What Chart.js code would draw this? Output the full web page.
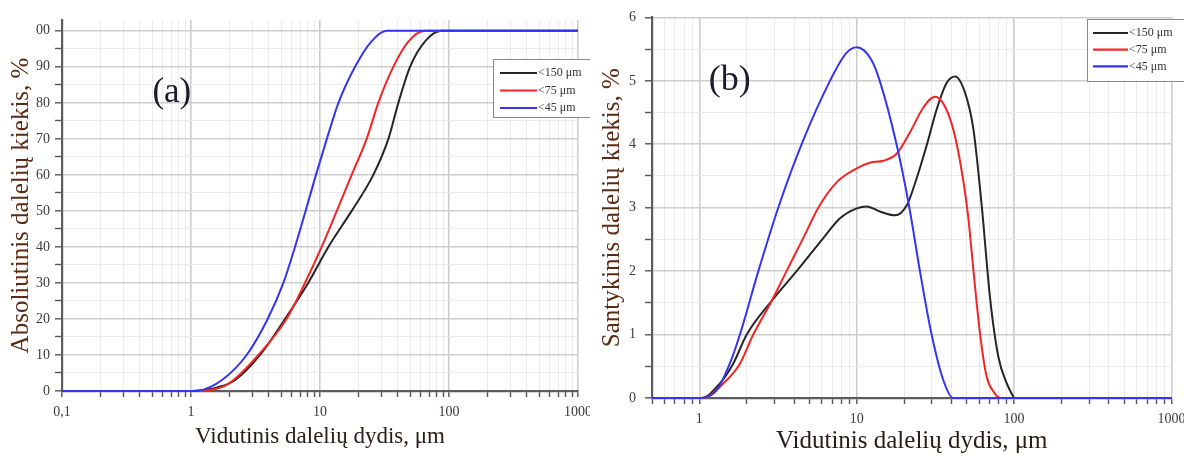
<!DOCTYPE html>
<html>
<head>
<meta charset="utf-8">
<script src="https://cdn.jsdelivr.net/npm/chart.js@4"></script>
<style>
html,body{margin:0;padding:0;background:#fff;width:1184px;height:458px;overflow:hidden;position:relative}
.wrap{position:absolute;top:0;height:458px;overflow:hidden}
#w1{left:0;width:590px}
#w2{left:590px;width:594px}
canvas{display:block}
</style>
</head>
<body>
<div class="wrap" id="w1"><canvas id="c1" width="610" height="458"></canvas></div>
<div class="wrap" id="w2"><canvas id="c2" width="614" height="458"></canvas></div>
<script>
// ---------- data ----------
const seriesNames = ['<150 μm', '<75 μm', '<45 μm'];
const seriesColors = ['#262626', '#f42424', '#3434f2'];

// (a) cumulative amount, %
const cumSize150 = [0.1, 1.0, 1.2, 1.6, 2.19, 3.43, 5.35, 8.1, 11.6, 17.6, 25.9, 33.9, 40.5, 49.9, 65, 87.7, 1000];
const cumVal150  = [0,   0,   0.2, 1,   3,    10,   20,   30,  40,   50,   60,   70,   80,   90,   97, 100,  100];
const cumSize75  = [0.1, 1.0, 1.28, 1.95, 3.33, 5.5, 7.65, 10.3, 13.5, 17.6, 23, 28.3, 37, 48.4, 65, 1000];
const cumVal75   = [0,   0,   0.1,  2,    10,   20,  30,   40,   50,   60,   70, 80,   90, 97,   100, 100];
const cumSize45  = [0.1, 1.0, 1.14, 1.73, 2.70, 3.93, 5.2, 6.4, 7.74, 9.3, 11.3, 13.9, 18.7, 25, 32.9, 1000];
const cumVal45   = [0,   0,   0.1,  3,    10,   20,   30,  40,  50,   60,  70,   80,   90,   97, 100,  100];

// (b) relative amount, %
const difSize150 = [0.5, 1.03, 1.35, 1.64, 2.0, 2.88, 4.15, 6.13, 7.8, 10, 11.6, 14.0, 17.5, 20.8, 24, 27.8, 32.2, 37.3, 42.2, 48.8, 55.1, 62.2, 70.3, 79.4, 89.8, 98.9, 100, 1000];
const difVal150  = [0,   0,    0.23, 0.54, 1.0, 1.53, 2.0,  2.52, 2.83, 2.99, 3.02, 2.94, 2.88, 3.04, 3.46, 3.98, 4.55, 4.97, 5.07, 4.81, 4.24, 3.04, 1.58, 0.65, 0.23, 0.02, 0, 0];
const difSize75  = [0.5, 1.06, 1.42, 1.81, 2.2, 2.88, 3.58, 4.57, 5.7, 7.45, 10, 12.1, 14.8, 17.9, 21.8, 26.5, 31.4, 34.6, 39.2, 43.2, 47.6, 51.2, 55.2, 60.8, 67, 74, 81.5, 1000];
const difVal75   = [0,   0,    0.23, 0.54, 1.0, 1.53, 2.0,  2.52, 3.0, 3.4,  3.62, 3.71, 3.74, 3.85, 4.19, 4.58, 4.75, 4.68, 4.40, 4.0, 3.41, 2.83, 2.0, 1.0, 0.33, 0.1, 0, 0];
const difSize45  = [0.5, 1.0, 1.29, 1.56, 1.81, 2.37, 3.17, 4.46, 6.76, 8.6, 10, 12.4, 14.0, 17.9, 21.6, 25.2, 29.9, 35.5, 41, 1000];
const difVal45   = [0,   0,   0.125, 0.54, 1.0, 2.0,  3.0,  4.0,  5.0,  5.44, 5.53, 5.33, 5.0, 4.0, 3.0, 2.0, 1.0, 0.28, 0, 0];

// tick labels
const leftXTickValues  = [0.1, 1, 10, 100, 1000];
const leftXTickLabels  = ['0,1', '1', '10', '100', '1000'];
const leftYTickValues  = [0, 10, 20, 30, 40, 50, 60, 70, 80, 90, 100];
const leftYTickLabels  = ['0', '10', '20', '30', '40', '50', '60', '70', '80', '90', '00'];
const rightXTickValues = [1, 10, 100, 1000];
const rightXTickLabels = ['1', '10', '100', '1000'];
const rightYTickValues = [0, 1, 2, 3, 4, 5, 6];
const rightYTickLabels = ['0', '1', '2', '3', '4', '5', '6'];

const xTitle = 'Vidutinis dalelių dydis, μm';
const leftYTitle = 'Absoliutinis dalelių kiekis, %';
const rightYTitle = 'Santykinis dalelių kiekis, %';

// ---------- helpers ----------
const SERIF = "'Liberation Serif', 'DejaVu Serif', serif";
function pts(xs, ys) { return xs.map((x, i) => ({x: x, y: ys[i]})); }
function near(a, b) { return Math.abs(a - b) <= 1e-6 * Math.max(1, Math.abs(b)); }
function lookup(vals, labs, v) { for (let i = 0; i < vals.length; i++) if (near(v, vals[i])) return labs[i]; return ''; }
function isDecade(v) { const l = Math.log10(v); return Math.abs(l - Math.round(l)) < 1e-6; }
function logTicks(min, max) {
  const t = [];
  for (let e = Math.floor(Math.log10(min)); e <= Math.ceil(Math.log10(max)); e++) {
    for (let m = 1; m < 10; m++) {
      const v = +(m * Math.pow(10, e)).toPrecision(6);
      if (v >= min * (1 - 1e-9) && v <= max * (1 + 1e-9)) t.push({value: v});
    }
  }
  return t;
}
function linTicks(min, max, step) {
  const t = []; for (let v = min; v <= max + 1e-9; v += step) t.push({value: +v.toFixed(6)}); return t;
}

const decor = {
  id: 'decor',
  afterDatasetsDraw(chart, args, o) {
    const ctx = chart.ctx;
    ctx.save();
    const xs = chart.scales.x, ys = chart.scales.y;
    ctx.font = o.labelFont;
    ctx.fillStyle = '#1d1a2c';
    ctx.textAlign = 'center';
    ctx.textBaseline = 'middle';
    ctx.fillText(o.label, xs.getPixelForValue(o.labelAt[0]), ys.getPixelForValue(o.labelAt[1]));
    const L = o.legend;
    ctx.fillStyle = '#fff';
    ctx.fillRect(L.x, L.y, L.w, L.h);
    ctx.strokeStyle = '#8a8a8a';
    ctx.lineWidth = 1;
    ctx.strokeRect(L.x + 0.5, L.y + 0.5, L.w, L.h);
    chart.data.datasets.forEach((ds, i) => {
      const y = L.y + L.first + i * L.step;
      ctx.strokeStyle = ds.borderColor;
      ctx.lineWidth = 2.2;
      ctx.beginPath();
      ctx.moveTo(L.x + L.lineStart, y);
      ctx.lineTo(L.x + L.lineEnd, y);
      ctx.stroke();
      ctx.fillStyle = '#333';
      ctx.font = L.font;
      ctx.textAlign = 'left';
      ctx.textBaseline = 'middle';
      ctx.fillText(ds.label, L.x + L.lineEnd + 1, y);
    });
    ctx.restore();
  }
};

function makeChart(id, c) {
  const datasets = c.series.map((s, i) => ({
    label: seriesNames[i],
    data: pts(s[0], s[1]),
    borderColor: seriesColors[i],
    borderWidth: 2,
    pointRadius: 0,
    fill: false,
    cubicInterpolationMode: 'monotone',
    clip: false,
    order: 3 - i
  }));
  return new Chart(document.getElementById(id), {
    type: 'line',
    data: {datasets: datasets},
    plugins: [decor],
    options: {
      responsive: false,
      animation: false,
      events: [],
      layout: {padding: {left: 0, right: c.padRight, top: c.padTop, bottom: 0}},
      plugins: {
        legend: {display: false},
        tooltip: {enabled: false},
        decor: {label: c.label, labelAt: c.labelAt, labelFont: c.labelFont, legend: c.legend}
      },
      scales: {
        x: {
          type: 'logarithmic',
          min: c.xMin, max: c.xMax,
          afterBuildTicks: s => { s.ticks = logTicks(c.xMin, c.xMax); },
          afterFit: s => { s.height = c.xH; },
          ticks: {
            autoSkip: false, maxRotation: 0, minRotation: 0, padding: 7,
            font: {family: SERIF, size: 14}, color: '#3a3a3a',
            callback: v => lookup(c.xTickValues, c.xTickLabels, v)
          },
          grid: {
            color: g => (g.tick && isDecade(g.tick.value)) ? '#cdcdcd' : '#ebebeb',
            lineWidth: g => (g.tick && isDecade(g.tick.value)) ? 1.6 : 1,
            drawTicks: true, tickLength: 6, tickColor: '#555', tickWidth: 1.4
          },
          border: {display: true, color: '#5c5c5c', width: 2.2},
          title: {display: true, text: xTitle, color: '#2a1c14',
                  font: {family: SERIF, size: c.xTitleSize}, padding: {top: 0, bottom: c.xTitlePad}}
        },
        y: {
          type: 'linear',
          min: 0, max: c.yMax,
          afterBuildTicks: s => { s.ticks = linTicks(0, c.yTop, c.yMinor); },
          afterFit: s => { s.width = 62; },
          ticks: {
            autoSkip: false, padding: c.yPad,
            font: {family: SERIF, size: 14}, color: '#3a3a3a',
            callback: v => lookup(c.yTickValues, c.yTickLabels, v)
          },
          grid: {
            color: g => (g.tick && c.yTickValues.some(t => near(g.tick.value, t))) ? '#cdcdcd' : '#ebebeb',
            lineWidth: g => (g.tick && c.yTickValues.some(t => near(g.tick.value, t))) ? 1.6 : 1,
            drawTicks: true, tickLength: 7, tickColor: '#555', tickWidth: 1.4
          },
          border: {display: true, color: '#5c5c5c', width: 2.2},
          title: {display: true, text: c.yTitle, color: '#5a2a12',
                  font: {family: SERIF, size: c.yTitleSize}, padding: {top: c.yTitlePad, bottom: 0}}
        }
      }
    }
  });
}

makeChart('c1', {
  series: [[cumSize150, cumVal150], [cumSize75, cumVal75], [cumSize45, cumVal45]],
  xMin: 0.1, xMax: 1000, xTickValues: leftXTickValues, xTickLabels: leftXTickLabels,
  yMax: 103, yTop: 100, yMinor: 5, yTickValues: leftYTickValues, yTickLabels: leftYTickLabels,
  padRight: 32, padTop: 20, xH: 67, yPad: 5,
  xTitleSize: 23, xTitlePad: 7, yTitle: leftYTitle, yTitleSize: 25, yTitlePad: 6,
  label: '(a)', labelAt: [0.71, 82.8], labelFont: "35px " + SERIF,
  legend: {x: 493, y: 59, w: 130, h: 58, first: 14, step: 17.5, lineStart: 7, lineEnd: 44, font: "12px " + SERIF}
});

makeChart('c2', {
  series: [[difSize150, difVal150], [difSize75, difVal75], [difSize45, difVal45]],
  xMin: 0.5, xMax: 1000, xTickValues: rightXTickValues, xTickLabels: rightXTickLabels,
  yMax: 6, yTop: 6, yMinor: 0.5, yTickValues: rightYTickValues, yTickLabels: rightYTickLabels,
  padRight: 32.5, padTop: 14, xH: 60, yPad: 9,
  xTitleSize: 25, xTitlePad: 2, yTitle: rightYTitle, yTitleSize: 25, yTitlePad: 7,
  label: '(b)', labelAt: [1.56, 5.0], labelFont: "36px " + SERIF,
  legend: {x: 497, y: 19, w: 130, h: 62, first: 14, step: 16.7, lineStart: 6, lineEnd: 41, font: "12px " + SERIF}
});
</script>
</body>
</html>
